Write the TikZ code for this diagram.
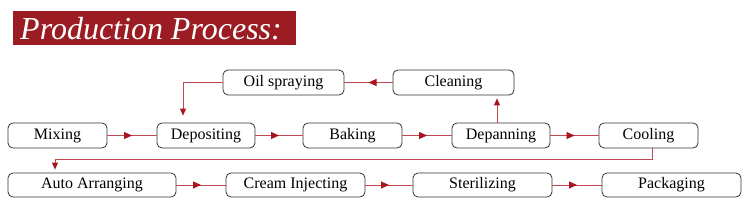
\documentclass[tikz,border=0pt]{standalone}
\usepackage{fontspec}
\setmainfont{Liberation Serif}
\usetikzlibrary{arrows.meta,decorations.markings}
\definecolor{titlered}{RGB}{155,28,34}
\definecolor{lineRed}{RGB}{192,72,78}
\definecolor{headRed}{RGB}{165,22,30}
\definecolor{boxgray}{RGB}{50,50,50}
\tikzset{
  stepbox/.style={draw=boxgray,line width=0.8pt,rounded corners=5pt,minimum height=25pt,inner sep=0pt,font=\fontsize{16}{16}\selectfont},
  flow/.style={draw=lineRed,line width=0.9pt,postaction={decorate},
    decoration={markings,mark=at position 0.5 with {\arrow[headRed]{Triangle[length=8pt,width=7pt]}}}},
  feed/.style={draw=lineRed,line width=0.9pt,-{Triangle[length=7pt,width=6pt,color=headRed]}},
}
\begin{document}
\begin{tikzpicture}[x=1pt,y=-1pt]
\useasboundingbox (0,0) rectangle (750,203);
\fill[titlered] (13,11) rectangle (296,45);
\node[text=white,font=\fontsize{32}{32}\itshape] (title) at (151,28.5) {Production Process:};
\node[stepbox,minimum width=121pt] (oil) at (283.5,82.5) {Oil spraying};
\node[stepbox,minimum width=121pt] (clean) at (453.5,82.5) {Cleaning};
\node[stepbox,minimum width=99pt] (mix) at (57.5,135.5) {Mixing};
\node[stepbox,minimum width=98pt] (depo) at (206,135.5) {Depositing};
\node[stepbox,minimum width=99pt] (bake) at (352.5,135.5) {Baking};
\node[stepbox,minimum width=98pt] (depan) at (501,135.5) {Depanning};
\node[stepbox,minimum width=99pt] (cool) at (648.5,135.5) {Cooling};
\node[stepbox,minimum width=168pt,minimum height=24pt] (auto) at (92,185) {Auto Arranging};
\node[stepbox,minimum width=139pt,minimum height=24pt] (cream) at (295.5,185) {Cream Injecting};
\node[stepbox,minimum width=139pt,minimum height=24pt] (steril) at (482.5,185) {Sterilizing};
\node[stepbox,minimum width=139pt,minimum height=24pt] (pack) at (671.5,185) {Packaging};
\path[flow] (mix.east) -- (depo.west);
\path[flow] (depo.east) -- (bake.west);
\path[flow] (bake.east) -- (depan.west);
\path[flow] (depan.east) -- (cool.west);
\path[flow] (clean.west) -- (oil.east);
\path[flow] (auto.east) -- (cream.west);
\path[flow] (cream.east) -- (steril.west);
\path[flow] (steril.east) -- (pack.west);
\draw[feed,shorten >=7pt] (oil.west) -| ([xshift=-23pt]depo.north);
\draw[feed,shorten >=3pt] ([xshift=-4pt]depan.north) -- ([xshift=-4pt]depan.north |- clean.south);
\draw[feed,shorten >=3pt] ([xshift=3.5pt]cool.south) -- ++(0,11) -| ([xshift=-37pt]auto.north);
\end{tikzpicture}
\end{document}
